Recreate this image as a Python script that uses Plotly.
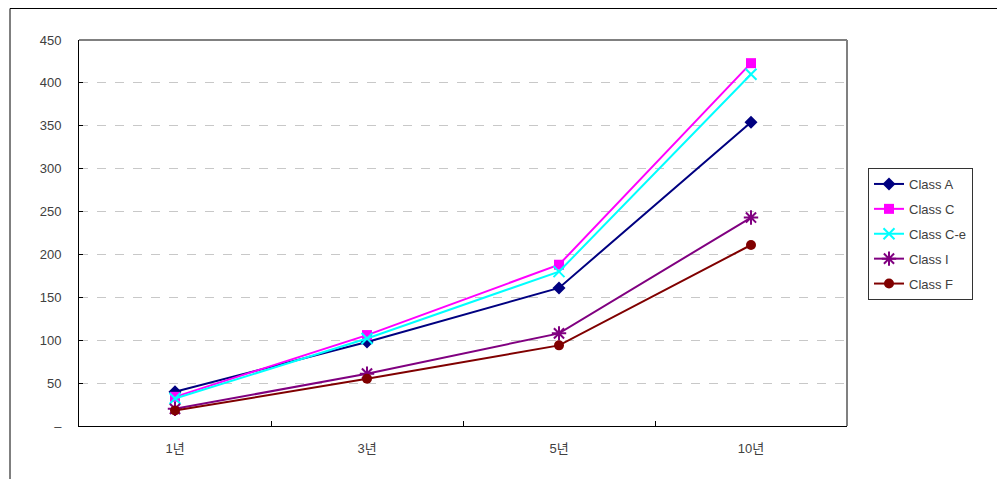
import plotly.graph_objects as go

categories = ["1년", "3년", "5년", "10년"]
series_names = ["Class A", "Class C", "Class C-e", "Class I", "Class F"]
class_a = [40, 98, 161, 354]
class_c = [34, 106, 188, 423]
class_ce = [32, 102, 180, 410]
class_i = [20, 61, 108, 243]
class_f = [18, 55, 94, 211]
y_tickvals = [0, 50, 100, 150, 200, 250, 300, 350, 400, 450]
y_ticktext = ["–", "50", "100", "150", "200", "250", "300", "350", "400", "450"]

values = [class_a, class_c, class_ce, class_i, class_f]
colors = ["#000080", "#FF00FF", "#00FFFF", "#800080", "#800000"]
symbols = ["diamond", "square", "x-thin-open", "asterisk-open", "circle"]
sizes = [10, 10, 11, 12, 10]

# page body has an 8px margin; compensate so the screenshot lines up
OFF = 8
W, H = 1005, 479
L, R, T, B = 79 - OFF, 847 - OFF, 40 - OFF, 426 - OFF

fig = go.Figure()
for name, vals, c, s, sz in zip(series_names, values, colors, symbols, sizes):
    mk = dict(color=c, symbol=s, size=sz)
    if "open" in s:
        mk["line"] = dict(color=c, width=2)
    fig.add_trace(go.Scatter(x=categories, y=vals, name=name, mode="lines+markers",
                             legendgroup=name,
                             line=dict(color=c, width=2), marker=mk))

FAM = "Liberation Sans, Arial, Noto Sans CJK KR, sans-serif"
font = dict(family=FAM, size=13, color="#404040")

fig.update_layout(
    width=W, height=H,
    margin=dict(l=L, r=W - R, t=T, b=H - B, pad=0),
    paper_bgcolor="white", plot_bgcolor="white",
    font=font,
    showlegend=True,
    legend=dict(x=(868 - OFF - L) / (R - L), y=(B - (168 - OFF)) / (B - T),
                xanchor="left", yanchor="top",
                bordercolor="#333333", borderwidth=1, bgcolor="white",
                font=dict(family=FAM, size=13, color="#404040"),
                tracegroupgap=5, itemwidth=30),
    xaxis=dict(type="category", range=[-0.5, 3.5], tickson="boundaries", ticks="inside",
               ticklen=5, tickcolor="#000000", showline=True, linecolor="#000000", linewidth=1,
               showgrid=False, zeroline=False, mirror=False, ticklabelstandoff=10),
    yaxis=dict(range=[0, 450], tickvals=y_tickvals, ticktext=y_ticktext, ticks="inside",
               ticklen=4, tickcolor="#000000", showline=True, linecolor="#000000", linewidth=1,
               showgrid=True, gridcolor="#C8C8C8", griddash="dash", gridwidth=1,
               zeroline=False, ticklabelstandoff=14),
    shapes=[
        dict(type="rect", xref="paper", yref="paper",
             x0=(10 - OFF - L) / (R - L), x1=(1002 - OFF - L) / (R - L),
             y0=(B - 490) / (B - T), y1=(B - 0.5) / (B - T),
             line=dict(color="#000000", width=1), layer="below"),
        dict(type="line", xref="paper", yref="paper", x0=0, x1=1, y0=1, y1=1,
             line=dict(color="#808080", width=2)),
        dict(type="line", xref="paper", yref="paper", x0=1, x1=1, y0=0, y1=1,
             line=dict(color="#808080", width=2)),
    ],
)

fig.write_html("out.html")
